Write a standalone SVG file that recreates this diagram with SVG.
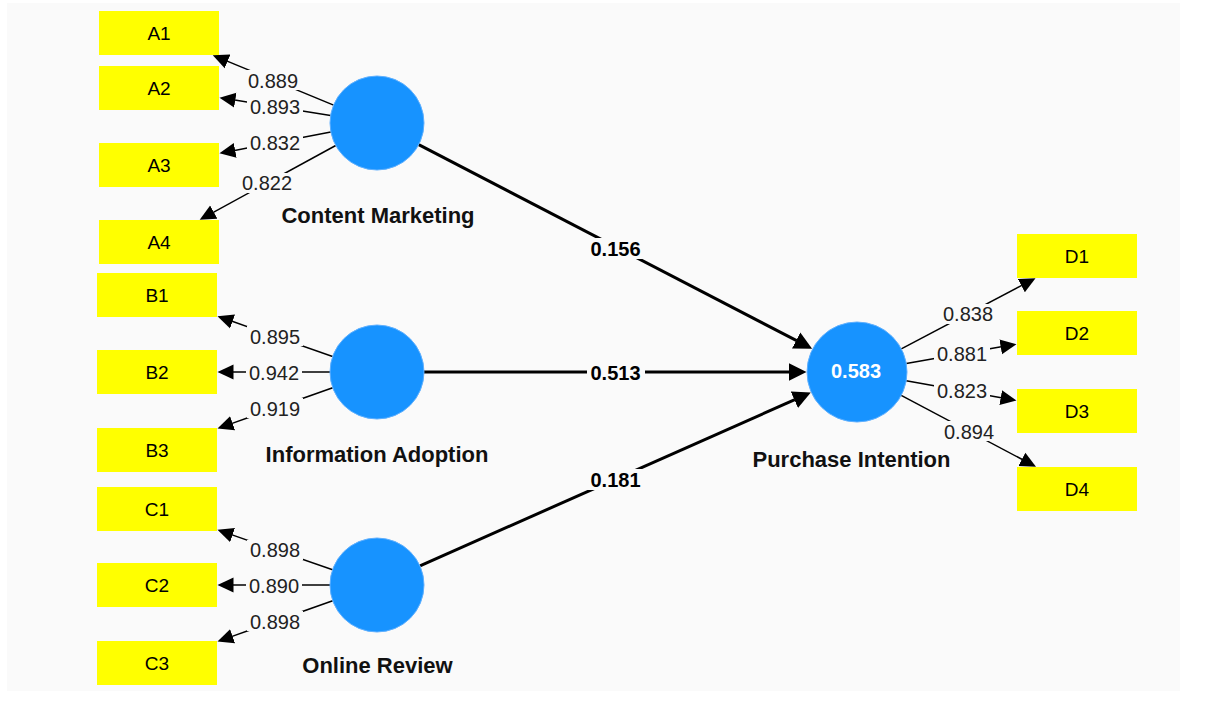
<svg xmlns="http://www.w3.org/2000/svg" width="1205" height="702" viewBox="0 0 1205 702">
  <defs>
    <style>
      .ind rect { fill: #ffff00; }
      .ind text { font-family: "Liberation Sans", Arial, sans-serif; font-size: 19px; fill: #000; text-anchor: middle; }
      .lv circle { fill: #1793ff; stroke: #5fb0ff; stroke-width: 1; }
      .lv text.name { font-family: "Liberation Sans", Arial, sans-serif; font-size: 22px; font-weight: bold; fill: #111; text-anchor: middle; }
      .lv text.r2 { font-family: "Liberation Sans", Arial, sans-serif; font-size: 20px; font-weight: bold; fill: #fff; text-anchor: middle; }
      .load { stroke: #000; stroke-width: 1.5; fill: none; marker-end: url(#headS); }
      .path { stroke: #000; stroke-width: 3; fill: none; marker-end: url(#headL); }
      .lbl-bg { fill: #fafafa; }
      .lbl { font-family: "Liberation Sans", Arial, sans-serif; font-size: 20px; fill: #222; text-anchor: middle; }
      .coef { font-family: "Liberation Sans", Arial, sans-serif; font-size: 20px; font-weight: bold; fill: #000; text-anchor: middle; }
    </style>
    <marker id="headS" markerUnits="userSpaceOnUse" viewBox="0 -8 17 16" refX="0.5" refY="0" markerWidth="17" markerHeight="16" orient="auto">
      <path d="M0,-7.5 L16,0 L0,7.5 Z" fill="#000"/>
    </marker>
    <marker id="headL" markerUnits="userSpaceOnUse" viewBox="0 -10 19 20" refX="0.5" refY="0" markerWidth="19" markerHeight="20" orient="auto">
      <path d="M0,-9 L18,0 L0,9 Z" fill="#000"/>
    </marker>
  </defs>

  <rect x="0" y="0" width="1205" height="702" fill="#ffffff"/>
  <rect x="7" y="3" width="1173" height="688" fill="#fafafa"/>

  <!-- connectors: outer loadings and inner path coefficients -->
  <g id="connectors">
    <!-- Content Marketing loadings -->
    <line class="load" x1="333.6" y1="105.1" x2="227.1" y2="61.1"/>
    <line class="load" x1="330.6" y1="115.5" x2="234.8" y2="100.1"/>
    <line class="load" x1="330.8" y1="131.9" x2="234.7" y2="150.4"/>
    <line class="load" x1="335.7" y1="145.5" x2="213.3" y2="212.3"/>
    <!-- Information Adoption loadings -->
    <line class="load" x1="332.6" y1="356.5" x2="232.1" y2="321.3"/>
    <line class="load" x1="330" y1="372" x2="233" y2="372"/>
    <line class="load" x1="332.7" y1="387.7" x2="232.1" y2="423.4"/>
    <!-- Online Review loadings -->
    <line class="load" x1="332.6" y1="569.7" x2="232.1" y2="534.9"/>
    <line class="load" x1="330" y1="585" x2="233" y2="585"/>
    <line class="load" x1="332.7" y1="600.7" x2="232.1" y2="636.4"/>
    <!-- Purchase Intention loadings -->
    <line class="load" x1="901.3" y1="348.8" x2="1021.8" y2="285.4"/>
    <line class="load" x1="906.3" y1="363.4" x2="1001.2" y2="346.8"/>
    <line class="load" x1="906.2" y1="380.7" x2="1001.2" y2="397.7"/>
    <line class="load" x1="901.2" y1="395.4" x2="1022.3" y2="459.5"/>
    <!-- structural paths -->
    <line class="path" x1="418.7" y1="144.6" x2="796.6" y2="340.7"/>
    <line class="path" x1="424" y1="372" x2="789" y2="372"/>
    <line class="path" x1="420" y1="565.9" x2="794.8" y2="399.6"/>

    <!-- loading values -->
    <g>
      <rect class="lbl-bg" x="245" y="70" width="56" height="20"/><text class="lbl" x="273" y="87.5">0.889</text>
      <rect class="lbl-bg" x="247" y="97" width="56" height="19"/><text class="lbl" x="275" y="114">0.893</text>
      <rect class="lbl-bg" x="247" y="133" width="56" height="20"/><text class="lbl" x="275" y="150">0.832</text>
      <rect class="lbl-bg" x="239" y="173" width="56" height="20"/><text class="lbl" x="267" y="190">0.822</text>
      <rect class="lbl-bg" x="247" y="326" width="56" height="20"/><text class="lbl" x="275" y="343.5">0.895</text>
      <rect class="lbl-bg" x="246" y="362" width="56" height="20"/><text class="lbl" x="274" y="379.5">0.942</text>
      <rect class="lbl-bg" x="247" y="398" width="56" height="20"/><text class="lbl" x="275" y="415.5">0.919</text>
      <rect class="lbl-bg" x="247" y="540" width="56" height="20"/><text class="lbl" x="275" y="557">0.898</text>
      <rect class="lbl-bg" x="246" y="575" width="56" height="20"/><text class="lbl" x="274" y="592.5">0.890</text>
      <rect class="lbl-bg" x="247" y="611" width="56" height="20"/><text class="lbl" x="275" y="628.5">0.898</text>
      <rect class="lbl-bg" x="940" y="304" width="56" height="20"/><text class="lbl" x="968" y="321">0.838</text>
      <rect class="lbl-bg" x="934" y="344" width="56" height="20"/><text class="lbl" x="962" y="361">0.881</text>
      <rect class="lbl-bg" x="934" y="380" width="56" height="20"/><text class="lbl" x="962" y="397.5">0.823</text>
      <rect class="lbl-bg" x="941" y="421" width="56" height="20"/><text class="lbl" x="969" y="438.5">0.894</text>
    </g>
    <!-- path coefficients -->
    <g>
      <rect class="lbl-bg" x="586" y="238" width="59" height="21"/><text class="coef" x="615.5" y="255.5">0.156</text>
      <rect class="lbl-bg" x="587" y="362" width="58" height="21"/><text class="coef" x="615.5" y="380">0.513</text>
      <rect class="lbl-bg" x="586" y="469" width="59" height="21"/><text class="coef" x="615.5" y="487">0.181</text>
    </g>
  </g>

  <!-- latent variables -->
  <g id="content-marketing" class="lv">
    <circle cx="377" cy="123" r="47"/>
    <text class="name" x="378" y="223">Content Marketing</text>
  </g>
  <g id="information-adoption" class="lv">
    <circle cx="377" cy="372" r="47"/>
    <text class="name" x="377" y="462">Information Adoption</text>
  </g>
  <g id="online-review" class="lv">
    <circle cx="377" cy="585" r="47"/>
    <text class="name" x="377.5" y="673">Online Review</text>
  </g>
  <g id="purchase-intention" class="lv">
    <circle cx="857" cy="372" r="50"/>
    <text class="r2" x="856" y="378">0.583</text>
    <text class="name" x="851.5" y="467">Purchase Intention</text>
  </g>

  <!-- indicators -->
  <g id="A1" class="ind"><rect x="99" y="11" width="120" height="44"/><text x="159" y="40">A1</text></g>
  <g id="A2" class="ind"><rect x="99" y="66" width="120" height="44"/><text x="159" y="95">A2</text></g>
  <g id="A3" class="ind"><rect x="99" y="143" width="120" height="44"/><text x="159" y="172">A3</text></g>
  <g id="A4" class="ind"><rect x="99" y="220" width="120" height="44"/><text x="159" y="249">A4</text></g>
  <g id="B1" class="ind"><rect x="97" y="273" width="120" height="44"/><text x="157" y="302">B1</text></g>
  <g id="B2" class="ind"><rect x="97" y="350" width="120" height="44"/><text x="157" y="379">B2</text></g>
  <g id="B3" class="ind"><rect x="97" y="428" width="120" height="44"/><text x="157" y="457">B3</text></g>
  <g id="C1" class="ind"><rect x="97" y="487" width="120" height="44"/><text x="157" y="516">C1</text></g>
  <g id="C2" class="ind"><rect x="97" y="563" width="120" height="44"/><text x="157" y="592">C2</text></g>
  <g id="C3" class="ind"><rect x="97" y="641" width="120" height="44"/><text x="157" y="670">C3</text></g>
  <g id="D1" class="ind"><rect x="1017" y="234" width="120" height="44"/><text x="1077" y="263">D1</text></g>
  <g id="D2" class="ind"><rect x="1017" y="311" width="120" height="44"/><text x="1077" y="340">D2</text></g>
  <g id="D3" class="ind"><rect x="1017" y="389" width="120" height="44"/><text x="1077" y="418">D3</text></g>
  <g id="D4" class="ind"><rect x="1017" y="467" width="120" height="44"/><text x="1077" y="496">D4</text></g>
</svg>
